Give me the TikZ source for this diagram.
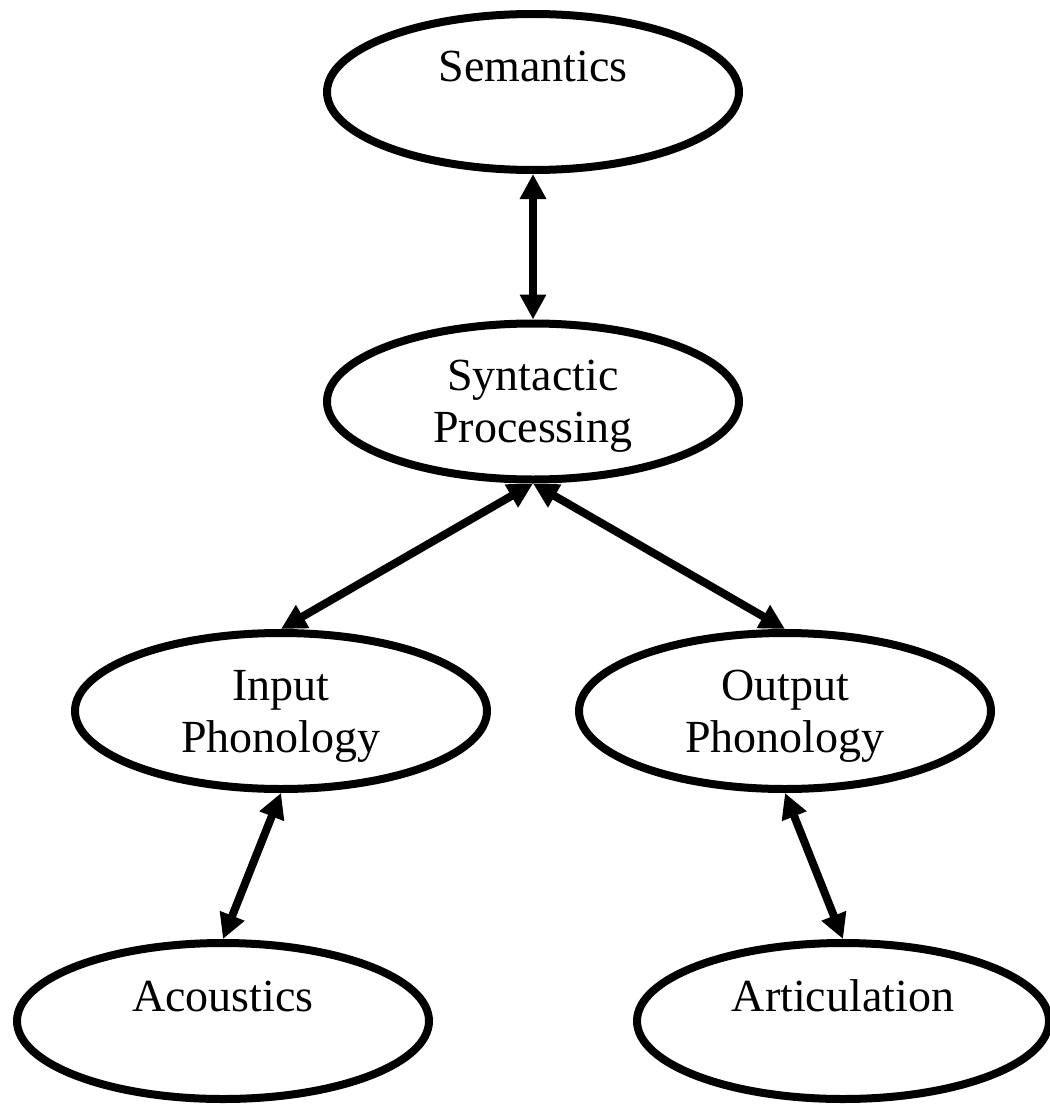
\documentclass[tikz,border=0pt]{standalone}
\usepackage{fontspec}
\setmainfont{Liberation Serif}
\usetikzlibrary{shapes.geometric,arrows.meta}
\newcommand{\lnstrut}{\rule[-8pt]{0pt}{48pt}}
\tikzset{
  box/.style={ellipse, draw=black, line width=8pt, fill=white,
    minimum width=412pt, minimum height=156pt, inner sep=0pt,
    align=center, font=\fontsize{46}{52}\selectfont},
  link/.style={line width=8pt, {Triangle[length=25pt,width=25pt]}-{Triangle[length=25pt,width=25pt]}}
}
\begin{document}
\begin{tikzpicture}[x=1pt,y=-1pt]
\useasboundingbox (0,0) rectangle (1049,1105);
\node[box] (sem) at (533,92) {Semantics\lnstrut\\\lnstrut};
\node[box] (syn) at (533,401.5) {Syntactic\lnstrut\\Processing\lnstrut};
\node[box] (inp) at (281,711) {Input\lnstrut\\Phonology\lnstrut};
\node[box] (out) at (785,711) {Output\lnstrut\\Phonology\lnstrut};
\node[box] (aco) at (223,1021) {Acoustics\lnstrut\\\lnstrut};
\node[box] (art) at (843,1021) {Articulation\lnstrut\\\lnstrut};
\draw[link] (sem.south) -- (syn.north);
\draw[link] (syn.south) -- (inp.north);
\draw[link] (syn.south) -- (out.north);
\draw[link] (inp.south) -- (aco.north);
\draw[link] (out.south) -- (art.north);
\end{tikzpicture}
\end{document}
